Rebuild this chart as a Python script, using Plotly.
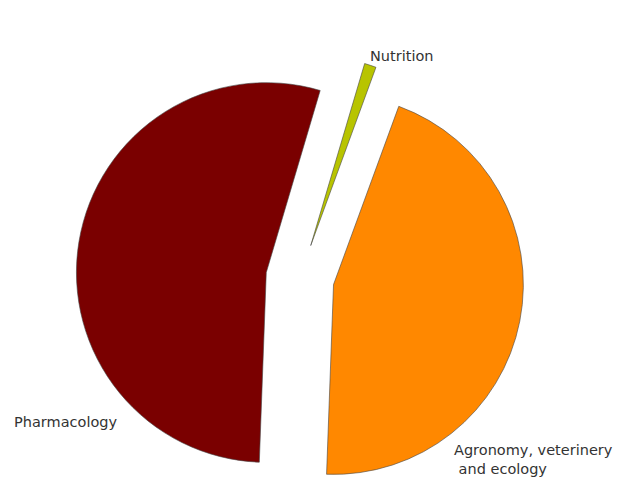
import plotly.graph_objects as go

labels = ["Nutrition", "Agronomy, veterinery<br> and ecology", "Pharmacology"]
values = [1.0, 45.0, 54.0]
colors = ["#B8C400", "#FF8800", "#7A0000"]
pulls = [0.18, 0.18, 0.18]

W, H = 640, 502
ML, MR, MT, MB = 76, 116, 54, 0

fig = go.Figure(go.Pie(
    labels=labels,
    values=values,
    sort=False,
    direction="clockwise",
    rotation=16.5,
    pull=pulls,
    marker=dict(colors=colors, line=dict(color="#444444", width=0.6)),
    textinfo="none",
    hoverinfo="label+percent",
    showlegend=False,
))

# label anchor pixels (left edge, vertical centre)
label_pos = [(368, 56), (452, 459), (12, 422)]
pw, ph = W - ML - MR, H - MT - MB
for lab, (x, y) in zip(labels, label_pos):
    fig.add_annotation(
        x=(x - ML) / pw, y=1 - (y - MT) / ph, xref="paper", yref="paper",
        text=lab, showarrow=False, xanchor="left", yanchor="middle", align="left",
        font=dict(family="DejaVu Sans", size=14.5, color="#333333"),
    )

fig.update_layout(
    width=W, height=H,
    margin=dict(l=ML, r=MR, t=MT, b=MB),
    paper_bgcolor="white", plot_bgcolor="white",
)

fig.write_html("out.html")
